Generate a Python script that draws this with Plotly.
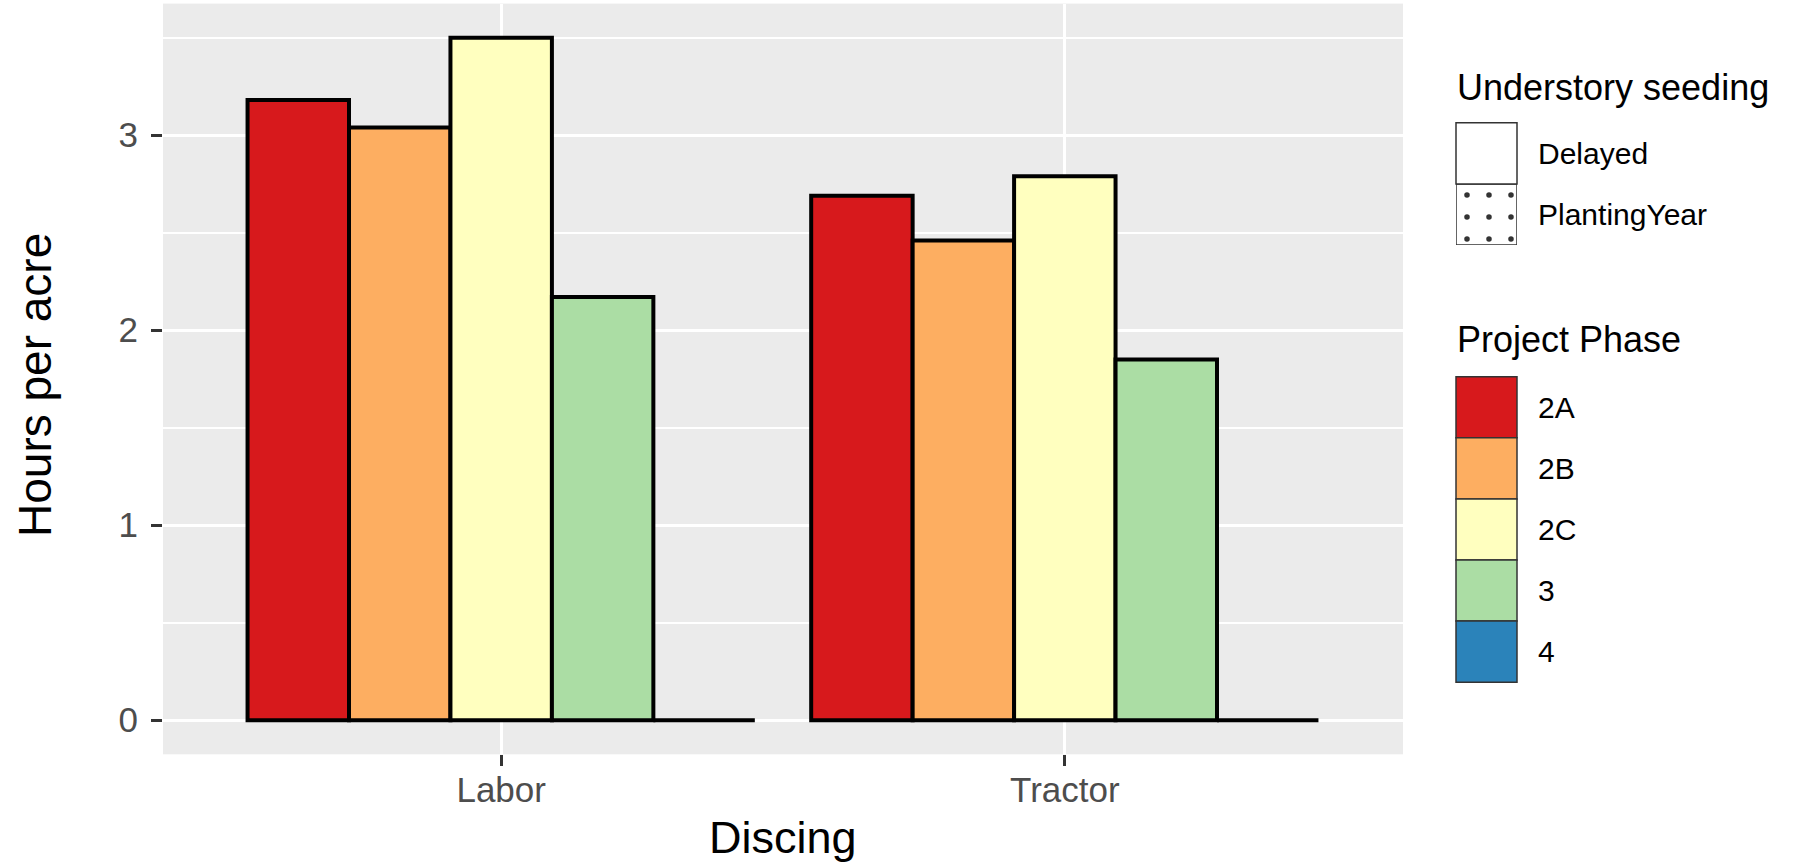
import plotly.graph_objects as go

# ---------------- data ----------------
categories = ["Labor", "Tractor"]
phases = ["2A", "2B", "2C", "3", "4"]
hours_2A = [3.18, 2.69]
hours_2B = [3.04, 2.46]
hours_2C = [3.50, 2.79]
hours_3 = [2.17, 1.85]
hours_4 = [0.0, 0.0]
phase_colors = ["#D7191C", "#FDAE61", "#FFFFBF", "#ABDDA4", "#2B83BA"]
seeding_levels = ["Delayed", "PlantingYear"]
y_ticks = [0, 1, 2, 3]

series = [hours_2A, hours_2B, hours_2C, hours_3, hours_4]

W, H = 1800, 863
FONT = "Liberation Sans, Arial, sans-serif"


def px_x(p):
    return p / W


def px_y(p):
    return 1 - p / H


fig = go.Figure()

x_idx = list(range(len(categories)))
for name, vals, col in zip(phases, series, phase_colors):
    fig.add_trace(go.Bar(
        x=x_idx, y=vals, name=name,
        marker=dict(color=col, line=dict(color="black", width=4)),
        showlegend=False, xaxis="x", yaxis="y",
    ))

# ---- legend key with dot pattern (PlantingYear) on a small helper axis ----
fig.add_trace(go.Bar(
    x=[0.5], y=[1], width=[1], name=seeding_levels[1],
    marker=dict(color="white",
                line=dict(color="#333333", width=1.5),
                pattern=dict(shape=".", fgcolor="#333333", bgcolor="white",
                             fgopacity=1, size=22, solidity=0.05)),
    showlegend=False, xaxis="x2", yaxis="y2", hoverinfo="skip",
))

shapes = []
annotations = []

# Understory seeding legend
annotations.append(dict(text="Understory seeding", x=px_x(1455), y=px_y(87),
                        xref="paper", yref="paper", xanchor="left", yanchor="middle",
                        showarrow=False, font=dict(family=FONT, size=36, color="black")))
key_x0, key_x1 = 1456, 1517
shapes.append(dict(type="rect", xref="paper", yref="paper",
                   x0=px_x(key_x0), x1=px_x(key_x1), y0=px_y(184), y1=px_y(122.7),
                   fillcolor="white", line=dict(color="#333333", width=1.5)))
seed_centers = [153.4, 214.5]
for lab, cy in zip(seeding_levels, seed_centers):
    annotations.append(dict(text=lab, x=px_x(1536), y=px_y(cy), xref="paper", yref="paper",
                            xanchor="left", yanchor="middle", showarrow=False,
                            font=dict(family=FONT, size=30, color="black")))

# Project Phase legend
annotations.append(dict(text="Project Phase", x=px_x(1455), y=px_y(339),
                        xref="paper", yref="paper", xanchor="left", yanchor="middle",
                        showarrow=False, font=dict(family=FONT, size=36, color="black")))
key_top = 376.7
key_h = 61.1
for i, (lab, col) in enumerate(zip(phases, phase_colors)):
    y0 = key_top + i * key_h
    shapes.append(dict(type="rect", xref="paper", yref="paper",
                       x0=px_x(key_x0), x1=px_x(key_x1), y0=px_y(y0 + key_h), y1=px_y(y0),
                       fillcolor=col, line=dict(color="#333333", width=1.5)))
    annotations.append(dict(text=lab, x=px_x(1536), y=px_y(y0 + key_h / 2),
                            xref="paper", yref="paper", xanchor="left", yanchor="middle",
                            showarrow=False, font=dict(family=FONT, size=30, color="black")))

# axis titles
annotations.append(dict(text="Discing", x=px_x(783), y=px_y(837), xref="paper", yref="paper",
                        xanchor="center", yanchor="middle", showarrow=False,
                        font=dict(family=FONT, size=45, color="black")))
annotations.append(dict(text="Hours per acre", x=px_x(35), y=px_y(385), xref="paper", yref="paper",
                        xanchor="center", yanchor="middle", showarrow=False, textangle=-90,
                        font=dict(family=FONT, size=46, color="black")))

fig.update_layout(
    width=W, height=H,
    margin=dict(l=0, r=0, t=0, b=0, autoexpand=False),
    paper_bgcolor="white",
    plot_bgcolor="#EBEBEB",
    barmode="group", bargap=0.1, bargroupgap=0,
    showlegend=False,
    shapes=shapes,
    annotations=annotations,
    xaxis=dict(
        domain=[px_x(163), px_x(1403)],
        range=[-0.6, 1.6],
        tickvals=x_idx, ticktext=categories,
        showgrid=True, gridcolor="white", gridwidth=3,
        zeroline=False, showline=False,
        ticks="outside", ticklen=11, tickwidth=3, tickcolor="#333333",
        ticklabelstandoff=-6,
        tickfont=dict(family=FONT, size=35, color="#4D4D4D"),
        fixedrange=True,
    ),
    yaxis=dict(
        domain=[px_y(754.3), px_y(3.6)],
        range=[-0.175, 3.675],
        tickvals=y_ticks,
        showgrid=True, gridcolor="white", gridwidth=3,
        minor=dict(dtick=0.5, tick0=0, showgrid=True, gridcolor="white", gridwidth=1.5),
        zeroline=False, showline=False,
        ticks="outside", ticklen=11, tickwidth=3, tickcolor="#333333",
        ticklabelstandoff=6,
        tickfont=dict(family=FONT, size=35, color="#4D4D4D"),
        fixedrange=True,
    ),
    xaxis2=dict(domain=[px_x(1456), px_x(1517)], range=[0, 1], visible=False,
                anchor="y2", fixedrange=True),
    yaxis2=dict(domain=[px_y(245), px_y(184)], range=[0, 1], visible=False,
                anchor="x2", fixedrange=True),
)

fig.write_html(
    "out.html",
    config={"displayModeBar": False},
    post_script="document.body.style.margin='0';document.body.style.padding='0';",
)
